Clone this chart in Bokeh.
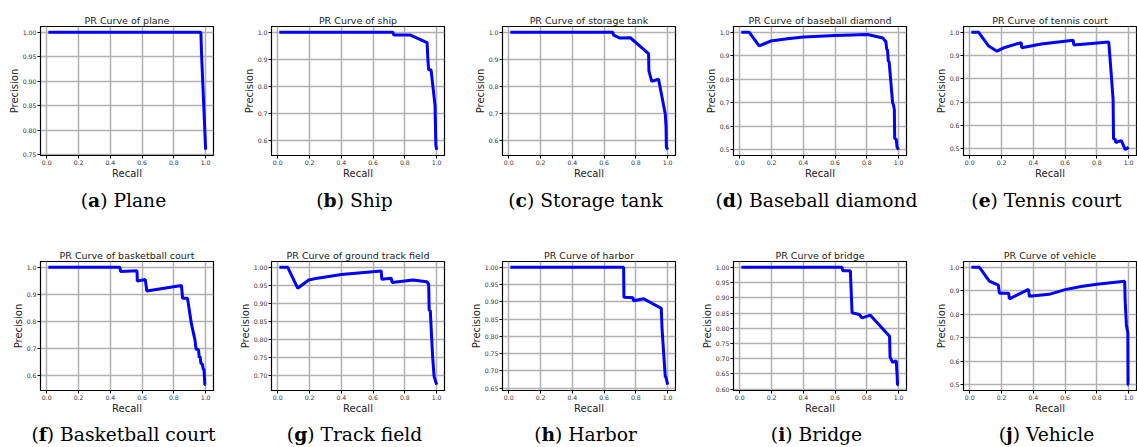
from bokeh.plotting import figure
from bokeh.layouts import row, column
from bokeh.models import Div, SingleIntervalTicker, PrintfTickFormatter, Range1d
from bokeh.embed import file_html
from bokeh.resources import INLINE

# ---------------- data ----------------
class_names = ["plane", "ship", "storage tank", "baseball diamond", "tennis court",
               "basketball court", "ground track field", "harbor", "bridge", "vehicle"]
letters = ["a", "b", "c", "d", "e", "f", "g", "h", "i", "j"]
captions = ["Plane", "Ship", "Storage tank", "Baseball diamond", "Tennis court",
            "Basketball court", "Track field", "Harbor", "Bridge", "Vehicle"]
y_tick_steps = [0.05, 0.1, 0.1, 0.1, 0.1, 0.1, 0.05, 0.05, 0.05, 0.1]
y_tick_formats = ["%.2f", "%.1f", "%.1f", "%.1f", "%.1f", "%.1f", "%.2f", "%.2f", "%.2f", "%.1f"]

recall_plane = [0.01, 0.97, 0.975, 1.0]
precision_plane = [1.0, 1.0, 0.95, 0.76]

recall_ship = [0.01, 0.725, 0.73, 0.835, 0.94, 0.945, 0.95, 0.965, 0.99, 0.995, 1.0]
precision_ship = [1.0, 1.0, 0.99, 0.99, 0.962, 0.90, 0.862, 0.862, 0.73, 0.585, 0.568]

recall_tank = [0.01, 0.655, 0.66, 0.70, 0.765, 0.88, 0.882, 0.90, 0.943, 0.985, 0.99, 0.992, 1.0]
precision_tank = [1.0, 1.0, 0.99, 0.979, 0.98, 0.921, 0.857, 0.818, 0.826, 0.697, 0.65, 0.575, 0.565]

recall_bd = [0.01, 0.06, 0.122, 0.194, 0.3, 0.4, 0.6, 0.805, 0.9, 0.92, 0.925, 0.93, 0.935,
             0.94, 0.962, 0.968, 0.973, 0.975, 0.985, 0.99, 1.0]
precision_bd = [1.0, 1.0, 0.942, 0.963, 0.973, 0.98, 0.987, 0.991, 0.976, 0.96, 0.926, 0.926, 0.876,
                0.876, 0.70, 0.69, 0.67, 0.547, 0.545, 0.51, 0.5]

recall_tc = [0.01, 0.056, 0.119, 0.171, 0.22, 0.324, 0.327, 0.45, 0.651, 0.655, 0.875, 0.885,
             0.902, 0.905, 0.915, 0.92, 0.935, 0.954, 0.979, 1.0]
precision_tc = [1.0, 1.0, 0.941, 0.919, 0.935, 0.956, 0.934, 0.95, 0.966, 0.946, 0.958, 0.87,
                0.713, 0.541, 0.54, 0.525, 0.53, 0.534, 0.495, 0.505]

recall_bc = [0.01, 0.46, 0.465, 0.568, 0.57, 0.62, 0.63, 0.848, 0.855, 0.886, 0.91, 0.933, 0.94,
             0.955, 0.96, 0.965, 0.97, 0.98, 0.985, 0.99, 0.995, 1.0]
precision_bc = [1.0, 1.0, 0.985, 0.987, 0.949, 0.955, 0.912, 0.933, 0.885, 0.885, 0.792, 0.73, 0.696,
                0.695, 0.665, 0.67, 0.645, 0.64, 0.622, 0.62, 0.565, 0.565]

recall_gtf = [0.01, 0.063, 0.125, 0.195, 0.25, 0.4, 0.651, 0.655, 0.714, 0.72, 0.85, 0.938, 0.95,
              0.953, 0.96, 0.975, 0.984, 1.0]
precision_gtf = [1.0, 1.0, 0.942, 0.965, 0.97, 0.98, 0.99, 0.967, 0.97, 0.958, 0.965, 0.96, 0.953,
                 0.88, 0.88, 0.75, 0.697, 0.674]

recall_harbor = [0.01, 0.723, 0.725, 0.782, 0.785, 0.849, 0.96, 0.965, 0.985, 0.99, 1.0]
precision_harbor = [1.0, 1.0, 0.913, 0.912, 0.903, 0.909, 0.881, 0.82, 0.684, 0.68, 0.66]

recall_bridge = [0.01, 0.644, 0.648, 0.696, 0.707, 0.752, 0.77, 0.822, 0.943, 0.946, 0.962, 0.985,
                 0.99, 0.993, 1.0]
precision_bridge = [1.0, 1.0, 0.989, 0.989, 0.851, 0.845, 0.834, 0.843, 0.774, 0.706, 0.688, 0.693,
                    0.65, 0.615, 0.615]

recall_vehicle = [0.01, 0.061, 0.123, 0.18, 0.186, 0.245, 0.249, 0.37, 0.375, 0.5, 0.6, 0.7, 0.8,
                  0.975, 0.978, 0.986, 0.995, 0.996, 1.0]
precision_vehicle = [1.0, 1.0, 0.941, 0.924, 0.89, 0.89, 0.866, 0.906, 0.877, 0.885, 0.905, 0.918,
                     0.928, 0.941, 0.86, 0.753, 0.72, 0.5, 0.5]

recalls = [recall_plane, recall_ship, recall_tank, recall_bd, recall_tc,
           recall_bc, recall_gtf, recall_harbor, recall_bridge, recall_vehicle]
precisions = [precision_plane, precision_ship, precision_tank, precision_bd, precision_tc,
              precision_bc, precision_gtf, precision_harbor, precision_bridge, precision_vehicle]

# ---------------- layout ----------------
FRAME_W, FRAME_H = 173, 129
col_left = [40, 40, 40, 40, 40]
col_right = [18, 18, 18, 17, 1]
BORDER_TOP, BORDER_BOTTOM = 26, 28


def auto_range(vals):
    lo, hi = min(vals), max(vals)
    pad = 0.05 * (hi - lo)
    return Range1d(lo - pad, hi + pad)


def make_panel(i):
    c = i % 5
    p = figure(frame_width=FRAME_W, frame_height=FRAME_H,
               min_border_left=col_left[c], min_border_right=col_right[c],
               min_border_top=BORDER_TOP, min_border_bottom=BORDER_BOTTOM,
               x_range=auto_range(recalls[i]), y_range=auto_range(precisions[i]),
               toolbar_location=None, output_backend="svg",
               title="PR Curve of " + class_names[i])
    p.line(recalls[i], precisions[i], line_color="#0000ff", line_width=3)
    p.title.align = "center"
    p.title.text_font = "DejaVu Sans"
    p.title.text_font_size = "9.5px"
    p.title.text_font_style = "normal"
    p.title.text_color = "#222222"
    p.title.standoff = 2
    p.outline_line_color = "black"
    p.outline_line_width = 1.2
    p.outline_line_alpha = 1
    p.background_fill_color = "white"
    p.border_fill_color = "white"

    p.xaxis.ticker = SingleIntervalTicker(interval=0.2, num_minor_ticks=0)
    p.xaxis.formatter = PrintfTickFormatter(format="%.1f")
    p.yaxis.ticker = SingleIntervalTicker(interval=y_tick_steps[i], num_minor_ticks=0)
    p.yaxis.formatter = PrintfTickFormatter(format=y_tick_formats[i])
    p.xaxis.axis_label = "Recall"
    p.yaxis.axis_label = "Precision"
    for ax in (p.xaxis, p.yaxis):
        ax.axis_label_text_font = "DejaVu Sans"
        ax.axis_label_text_font_size = "10px"
        ax.axis_label_text_font_style = "normal"
        ax.axis_label_text_color = "#222222"
        ax.axis_label_standoff = 0
        ax.major_label_text_font = "DejaVu Sans"
        ax.major_label_text_font_size = "6.2px"
        ax.major_label_text_color = "#333333"
        ax.major_label_standoff = 1
        ax.major_tick_out = 3
        ax.major_tick_in = 0
        ax.minor_tick_out = 0
        ax.minor_tick_in = 0
        ax.axis_line_color = "black"
        ax.major_tick_line_color = "black"
    p.grid.grid_line_color = "#b0b0b0"
    p.grid.grid_line_width = 1.5
    return p


def make_caption(i, height, top_pad):
    c = i % 5
    width = col_left[c] + FRAME_W + col_right[c]
    shift = col_left[c] - col_right[c] - 6
    html = ('<div style="font-family:\'DejaVu Serif\';font-size:18.7px;line-height:20px;'
            'color:#000;text-align:center;white-space:nowrap;box-sizing:border-box;'
            f'width:{width}px;padding-left:{shift}px;padding-top:{top_pad}px;">'
            f'(<b>{letters[i]}</b>) {captions[i]}</div>')
    return Div(text=html, width=width, height=height, margin=0)


rows = []
for r in range(2):
    cells = []
    for c in range(5):
        i = r * 5 + c
        fig = make_panel(i)
        cap = make_caption(i, 52 if r == 0 else 29, 7 if r == 0 else 6)
        cells.append(column(fig, cap, spacing=0))
    rows.append(row(*cells, spacing=0))

layout = column(*rows, spacing=0)

open("out.html", "w").write(file_html(layout, INLINE))
